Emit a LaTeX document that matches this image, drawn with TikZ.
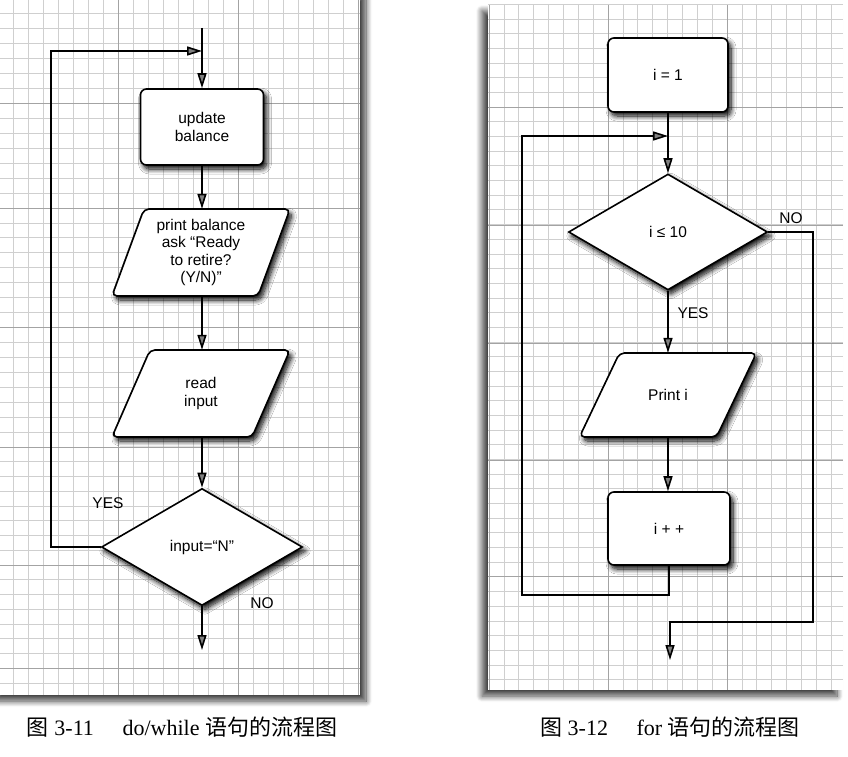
\documentclass[tikz,border=0pt]{standalone}
\usepackage{fontspec}
\setmainfont{Liberation Serif}
\newfontfamily\helv{Liberation Sans}
\newfontfamily\cjk{Noto Sans CJK SC}
\usetikzlibrary{arrows.meta,shapes.geometric,shadows.blur}

\tikzset{
  minorline/.style={gray!38,line width=0.6pt},
  majorline/.style={gray!72,line width=0.9pt},
  panel/.style={fill=white,blur shadow={shadow blur steps=12,shadow blur radius=6pt,shadow xshift=#1,shadow yshift=-6pt,shadow opacity=75}},
  shapeshadow/.style={blur shadow={shadow xshift=3pt,shadow yshift=-4pt,shadow blur steps=10,shadow blur radius=5pt,shadow opacity=100}},
  flowtext/.style={align=center,font=\helv\fontsize{15.5}{17.5}\selectfont},
  flow/.style={flowtext,draw=black,line width=1.6pt,fill=white,shapeshadow},
  procbox/.style={flow,rectangle,rounded corners=6pt,minimum width=123pt,minimum height=76pt},
  ioshape/.style={draw=black,line width=1.6pt,fill=white,rounded corners=5pt,shapeshadow},
  iotext/.style={flowtext,rectangle,draw=none,fill=none,inner sep=0pt},
  decision/.style={flow,diamond,minimum width=201pt,minimum height=117pt,inner sep=0pt},
  arr/.style={line width=1.6pt,-{Triangle[length=15pt,width=9pt]}},
  lab/.style={font=\helv\fontsize{15.5}{17}\selectfont,inner sep=0pt},
  captext/.style={font=\fontsize{22}{26}\selectfont,inner sep=0pt}
}

% name, x, y, width, height, slant, text
\newcommand\ioblock[7]{%
  \path[ioshape] ({#2-#4/2+#6},{#3-#5/2}) -- ({#2+#4/2},{#3-#5/2})
     -- ({#2+#4/2-#6},{#3+#5/2}) -- ({#2-#4/2},{#3+#5/2}) -- cycle;
  \node[iotext,minimum width=#4pt,minimum height=#5pt] (#1) at (#2,#3) {#7};%
}

\begin{document}
\begin{tikzpicture}[x=1pt,y=-1pt]
\useasboundingbox (0,0) rectangle (848,757);

% ---------- left panel ----------
\path[panel=6pt] (-10,-10) rectangle (360,695);
\begin{scope}
  \clip (-10,-10) rectangle (360,695);
  \foreach \x in {-2,13,...,358} \draw[minorline] (\x,-10) -- (\x,695);
  \foreach \a/\b/\n in {-17/103/8,103/208/7,208/327/8,327/447/8,447/565/8,565/668/7,668/788/8}{
    \foreach \k in {1,...,7}{
      \pgfmathsetmacro\yy{\a+(\b-\a)*\k/\n}
      \ifnum\k<\n \draw[minorline] (-10,\yy) -- (360,\yy); \fi
    }
  }
  \foreach \x in {-2,118,238,358} \draw[majorline] (\x,-10) -- (\x,695);
  \foreach \y in {-17,103,208,327,447,565,668} \draw[majorline] (-10,\y) -- (360,\y);
\end{scope}

% ---------- right panel ----------
\path[panel=-6pt] (488,5) rectangle (843,690);
\begin{scope}
  \clip (488,5) rectangle (843,690);
  \foreach \k in {0,...,24}{
    \pgfmathsetmacro\xx{489+14.875*\k}
    \draw[minorline] (\xx,5) -- (\xx,690);
  }
  \foreach \k in {-8,...,48}{
    \pgfmathsetmacro\yy{107+14.68*\k}
    \draw[minorline] (488,\yy) -- (843,\yy);
  }
  \foreach \x in {489,608,727} \draw[majorline] (\x,5) -- (\x,690);
  \foreach \y in {-11,107,225,343,460,576} \draw[majorline] (488,\y) -- (843,\y);
\end{scope}

% ---------- left flowchart ----------
\node[procbox] (upd) at (202,127) {update\\balance};
\ioblock{p1}{201}{252.5}{178}{87}{32}{print balance\\ask “Ready\\to retire?\\(Y/N)”}
\ioblock{p2}{201}{393.5}{178}{87}{38}{read\\input}
\node[decision] (dia) at (202,547) {input=“N”};

\coordinate (Ltop) at (202,28);
\coordinate (Ljoin) at (202,51);
\coordinate (Lcorner) at (51,51);
\coordinate (Lend) at (202,650);

\draw[arr] (Ltop) -- (upd.north);
\draw[arr] (upd.south) -- (upd.south |- p1.north);
\draw[arr] (upd.south |- p1.south) -- (upd.south |- p2.north);
\draw[arr] (upd.south |- p2.south) -- (dia.north);
\draw[arr] (dia.west) -| (Lcorner) -- (Ljoin);
\draw[arr] (dia.south) -- (Lend);

\node[lab] (yesL) at (108,503) {YES};
\node[lab] (noL) at (262,603) {NO};

% ---------- right flowchart ----------
\node[procbox,minimum width=120pt,minimum height=74pt] (init) at (668,75) {i = 1};
\node[decision,minimum width=199pt,minimum height=116pt] (cond) at (668,232) {i ≤ 10};
\ioblock{pr}{668}{395}{177}{84}{40}{Print i}
\node[procbox,minimum width=122pt,minimum height=73pt] (inc) at (669,528.5) {i + +};

\coordinate (Rjoin) at (668,136);
\coordinate (Rc) at (522,136);
\coordinate (Rc2) at (522,595);
\coordinate (Rn1) at (813,622);
\coordinate (Rend) at (670,660);

\draw[arr] (init.south) -- (cond.north);
\draw[arr] (cond.south) -- (pr.north);
\draw[arr] (pr.south) -- (pr.south |- inc.north);
\draw[arr] (inc.south) |- (Rc2) -- (Rc) -- (Rjoin);
\draw[arr] (cond.east) -| (Rn1) -| (Rend);

\node[lab] (noR) at (791,218) {NO};
\node[lab] (yesR) at (693,313) {YES};

% ---------- captions ----------
\node[captext] (cap1) at (182,727) {{\cjk 图} 3-11\hspace{1.3em}do/while {\cjk 语句的流程图}};
\node[captext] (cap2) at (670,727) {{\cjk 图} 3-12\hspace{1.3em}for {\cjk 语句的流程图}};
\end{tikzpicture}
\end{document}
